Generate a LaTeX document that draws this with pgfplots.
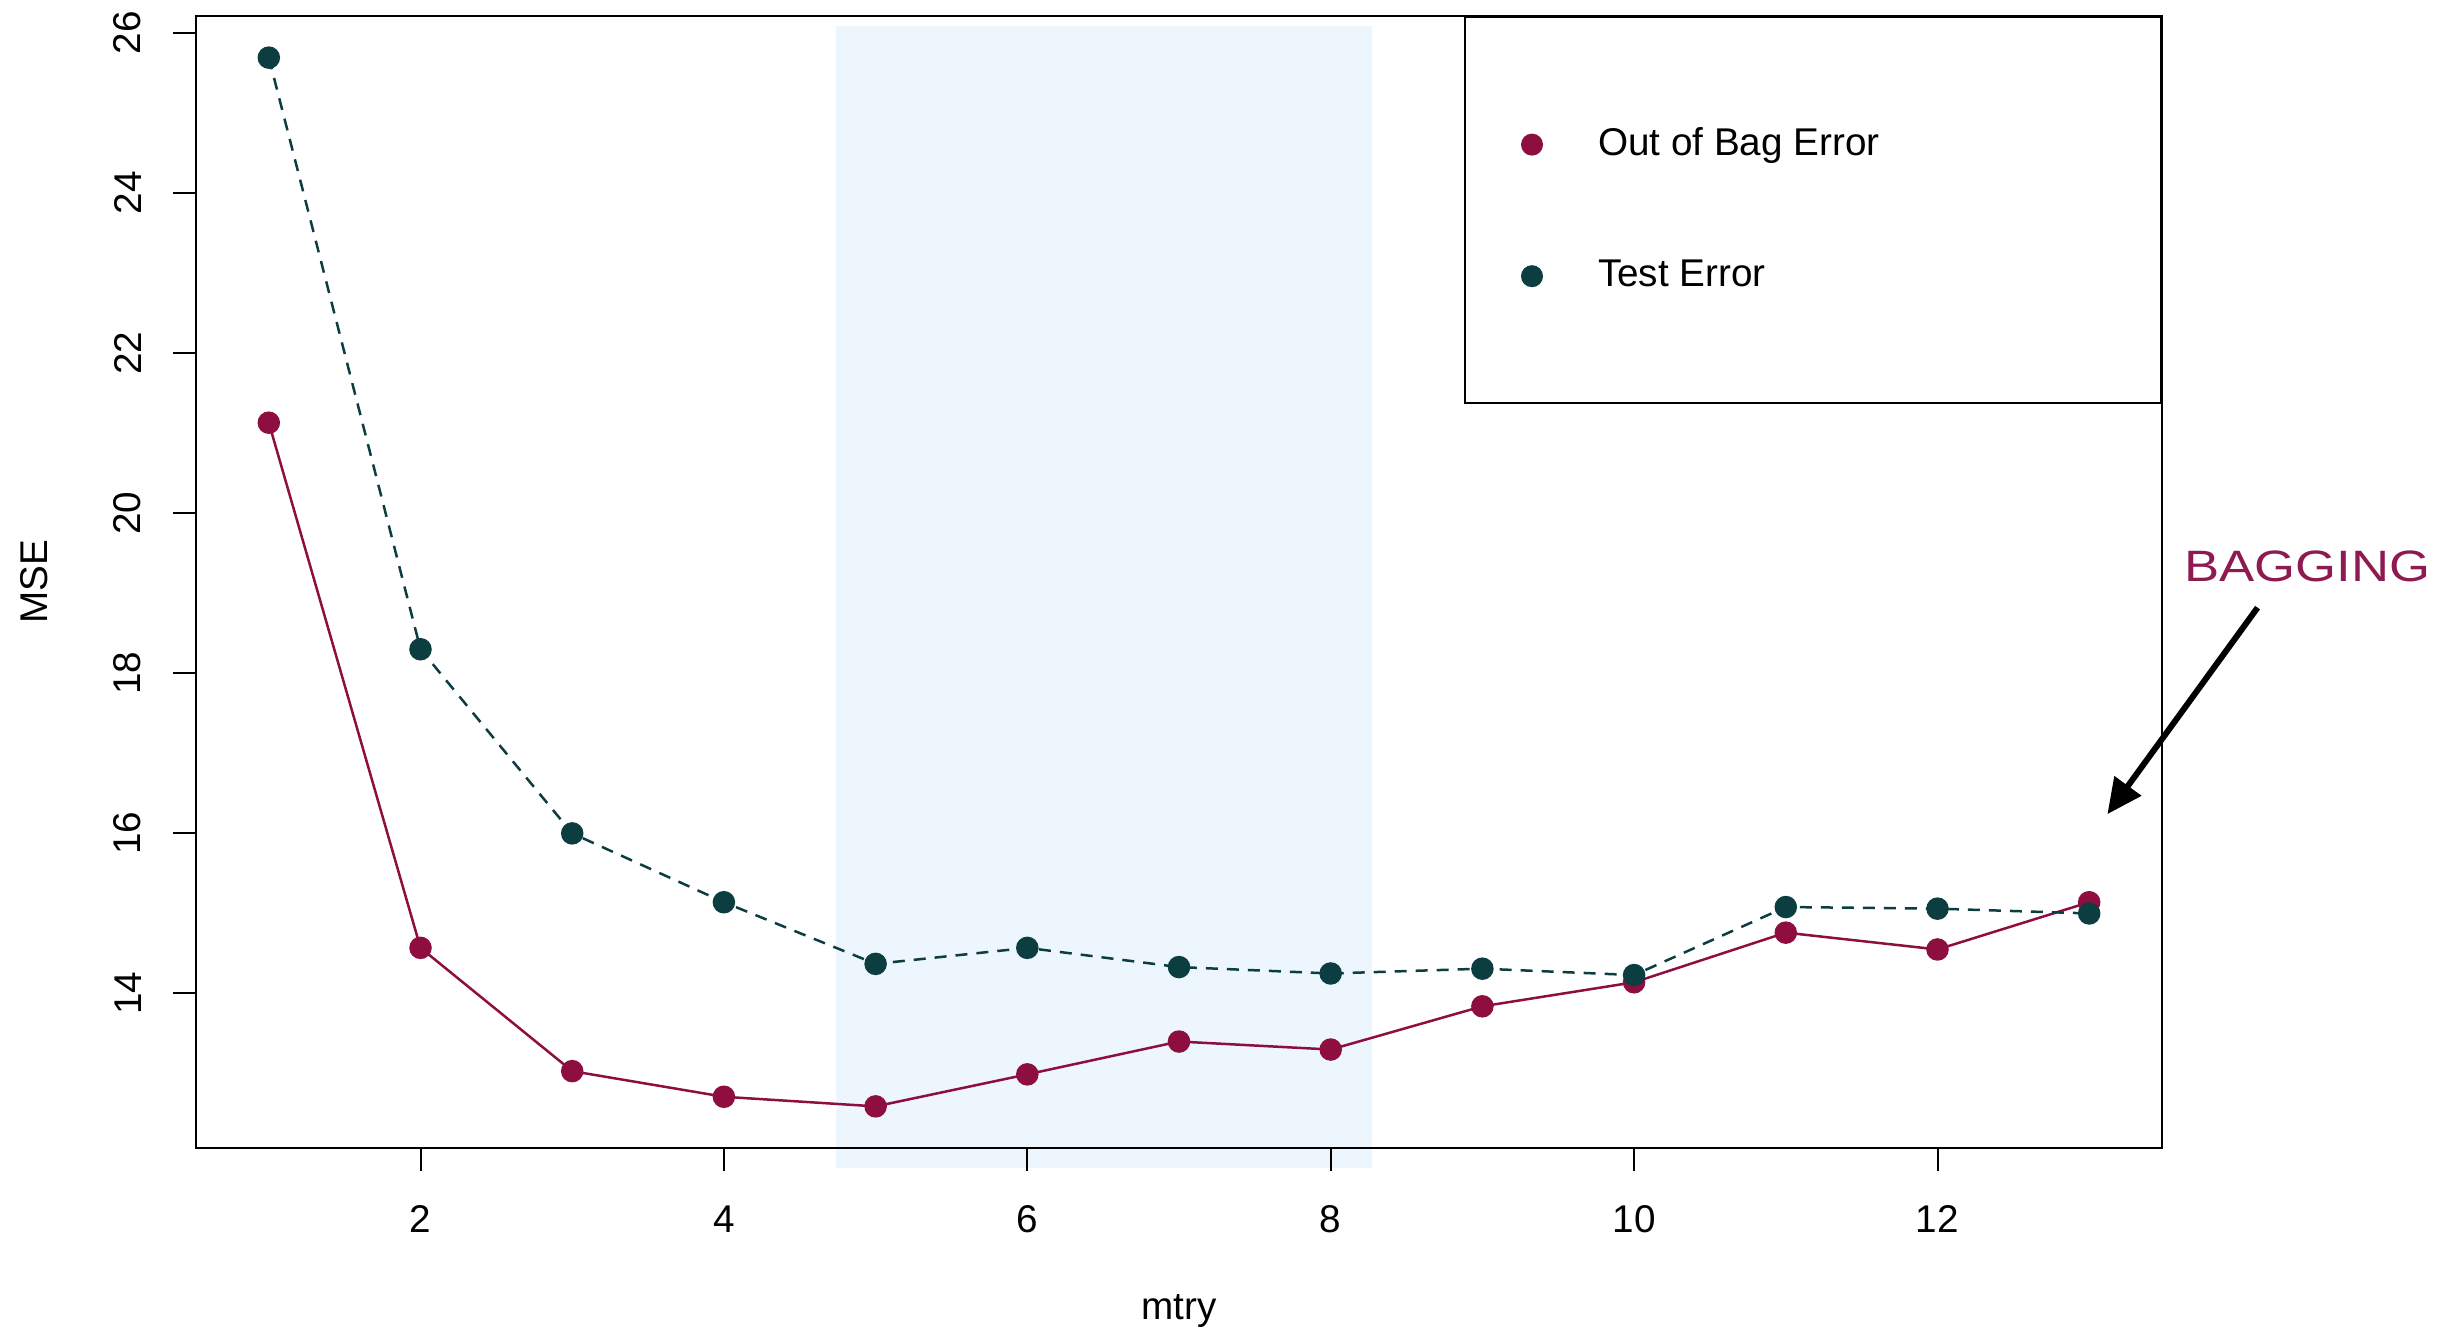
\documentclass[border=0pt]{standalone}
\usepackage{fontspec}
\setmainfont{Liberation Sans}
\usepackage{graphicx}
\usepackage{pgfplots}
\pgfplotsset{compat=1.18}
\usetikzlibrary{arrows.meta}
\definecolor{oob}{HTML}{8E0E3F}
\definecolor{tst}{HTML}{0C3D40}
\definecolor{bandcol}{HTML}{EDF5FD}
\definecolor{bag}{HTML}{8E1A52}
\begin{document}
\begin{tikzpicture}
\begin{axis}[
  scale only axis,
  width=196.6mm, height=113.2mm,
  xmin=0.52, xmax=13.48, ymin=12.07, ymax=26.21,
  clip=false,
  axis on top,
  xtick={2,4,6,8,10,12},
  ytick={14,16,18,20,22,24,26},
  tick pos=left,
  tick align=outside,
  major tick length=2.3mm,
  minor tick num=0,
  axis line style={line width=0.25mm},
  major tick style={line width=0.2mm, black},
  /pgf/number format/assume math mode=true,
  ticklabel style={font=\fontsize{11}{13}\selectfont},
  yticklabel style={rotate=90, anchor=south, inner xsep=0pt, inner ysep=3.1mm},
  xticklabel style={anchor=north, inner xsep=0pt, inner ysep=3.4mm},
  xlabel={mtry}, ylabel={MSE},
  xlabel style={at={(rel axis cs:0.5,-0.144)}, anchor=center, font=\fontsize{11}{13}\selectfont},
  ylabel style={at={(rel axis cs:-0.0824,0.5)}, anchor=center, rotate=0, font=\fontsize{11}{13}\selectfont},
  legend style={at={(rel axis cs:1,1)}, anchor=north east, draw=black, line width=0.2mm,
    inner xsep=5.7mm, inner ysep=11.1mm, column sep=5.6mm, row sep=9.9mm,
    nodes={inner sep=0pt}, font=\fontsize{11}{13}\selectfont},
  legend cell align=left,
]
\fill[bandcol] (axis cs:4.74,11.82) rectangle (axis cs:8.27,26.08);

\addplot[oob, line width=0.25mm, mark=*, mark size=1mm, mark options={solid, fill=oob, draw=oob}, forget plot]
coordinates {(1,21.13) (2,14.57) (3,13.03) (4,12.71) (5,12.59) (6,12.99) (7,13.40) (8,13.30) (9,13.84) (10,14.14) (11,14.76) (12,14.55) (13,15.14)};

\addplot[tst, line width=0.25mm, dash pattern=on 1.2mm off 0.9mm, mark=*, mark size=1mm, mark options={solid, fill=tst, draw=tst}, forget plot]
coordinates {(1,25.69) (2,18.30) (3,16.00) (4,15.14) (5,14.37) (6,14.57) (7,14.33) (8,14.25) (9,14.31) (10,14.23) (11,15.08) (12,15.06) (13,15.00)};

\addlegendimage{only marks, mark=*, mark size=1mm, oob, mark options={fill=oob, draw=oob}}
\addlegendentry{\makebox[50.6mm][l]{Out of Bag Error}}
\addlegendimage{only marks, mark=*, mark size=1mm, tst, mark options={fill=tst, draw=tst}}
\addlegendentry{\makebox[50.6mm][l]{Test Error}}

\draw[line width=0.6mm, -{Triangle[length=3.5mm, width=3.2mm]}] (axis cs:14.11,18.82) -- (axis cs:13.12,16.24);
\node[bag, font=\fontsize{12.5}{14}\selectfont, anchor=center] at (axis cs:14.44,19.34) {\scalebox{1.2}[1]{BAGGING}};
\end{axis}
\pgfresetboundingbox
\path (current axis.south west) ++(-19.6mm,-18.5mm) rectangle ++(245.3mm,133.3mm);
\end{tikzpicture}
\end{document}
